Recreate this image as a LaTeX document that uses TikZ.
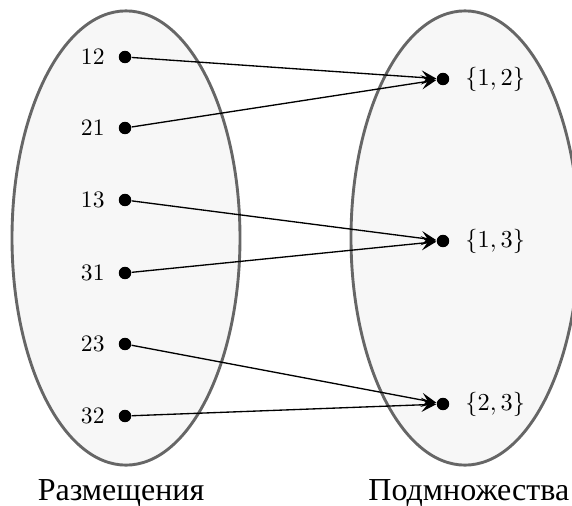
\documentclass[tikz,border=0pt]{standalone}
\usepackage{fontspec}
\newfontfamily\cyrfont{Liberation Serif}
\usetikzlibrary{arrows.meta}
\begin{document}
\begin{tikzpicture}[x=0.45pt,y=-0.45pt,
  setfill/.style={draw=black!60, line width=1.3pt, fill=black!3},
  dot/.style={circle, fill=black, inner sep=0pt, minimum size=5.6pt},
  numlbl/.style={inner sep=0pt, font=\fontsize{10.6}{12}\selectfont},
  arr/.style={-{Stealth[length=6.8pt,width=6.4pt,inset=2.8pt]}, line width=0.6pt},
  settitle/.style={font=\cyrfont\fontsize{14.4}{16}\selectfont, inner sep=0pt}]
\useasboundingbox (0,0) rectangle (572,506);
\begin{scope}
  \clip (0,0) rectangle (572,506);
  \draw[setfill] (126,238) ellipse [x radius=51.3pt, y radius=102.2pt];
  \draw[setfill] (465,238) ellipse [x radius=51.3pt, y radius=102.2pt];
\end{scope}
% left dots
\node[dot] (a12) at (125,57) {};
\node[dot] (a21) at (125,128) {};
\node[dot] (a13) at (125,200) {};
\node[dot] (a31) at (125,273) {};
\node[dot] (a23) at (125,344) {};
\node[dot] (a32) at (125,416) {};
\node[numlbl, anchor=east] (t12) at (105,57) {12};
\node[numlbl, anchor=east] (t21) at (105,128) {21};
\node[numlbl, anchor=east] (t13) at (105,200) {13};
\node[numlbl, anchor=east] (t31) at (105,273) {31};
\node[numlbl, anchor=east] (t23) at (105,344) {23};
\node[numlbl, anchor=east] (t32) at (105,416) {32};
% right dots
\node[dot] (b12) at (443,79) {};
\node[dot] (b13) at (443,241) {};
\node[dot] (b23) at (443,404) {};
\node[numlbl, anchor=west] (s12) at (465,79) {$\{1,2\}$};
\node[numlbl, anchor=west] (s13) at (465,241) {$\{1,3\}$};
\node[numlbl, anchor=west] (s23) at (465,404) {$\{2,3\}$};
% arrows
\draw[arr] (a12) -- (b12);
\draw[arr] (a21) -- (b12);
\draw[arr] (a13) -- (b13);
\draw[arr] (a31) -- (b13);
\draw[arr] (a23) -- (b23);
\draw[arr] (a32) -- (b23);
% titles
\node[settitle, anchor=base] (ttl1) at (121,500) {Размещения};
\node[settitle, anchor=base west] (ttl2) at (368,500) {Подмножества};
\end{tikzpicture}
\end{document}
